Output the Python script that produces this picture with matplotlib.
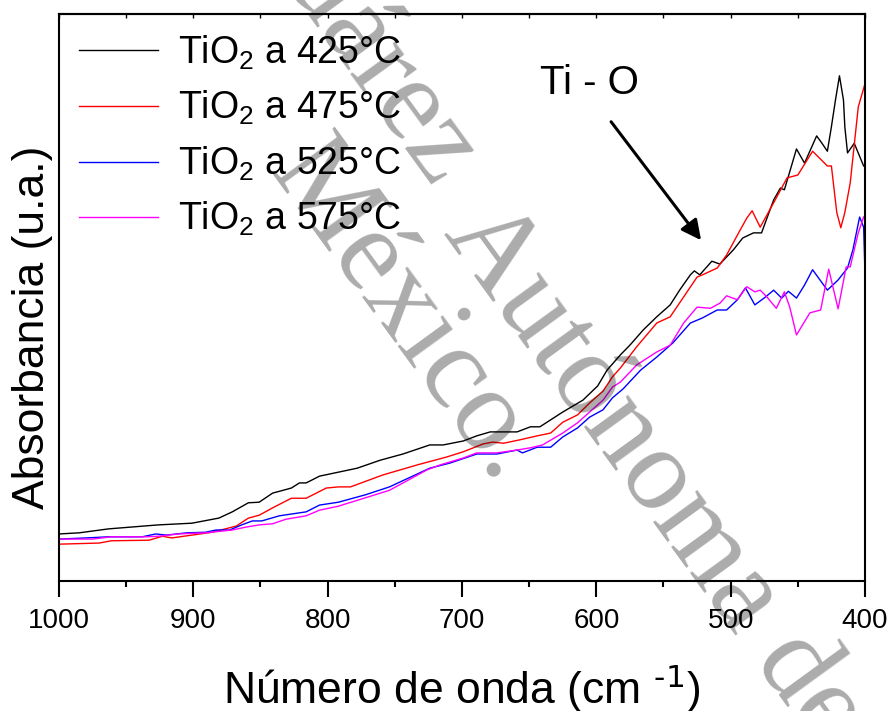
import matplotlib
matplotlib.use('Agg')
import matplotlib.pyplot as plt
from matplotlib.ticker import MultipleLocator

plt.rcParams['font.family'] = ['Liberation Sans', 'DejaVu Sans']
plt.rcParams['font.serif'] = ['Liberation Serif', 'DejaVu Serif']
plt.rcParams['mathtext.default'] = 'regular'

# wavenumber (cm-1) and absorbance (a.u.)
wn_425 = [1000, 985, 963, 926, 901, 881, 871, 859, 851, 841, 827, 821, 816, 806, 792, 778, 761, 744,
          724, 714, 699, 689, 679, 659, 649, 642, 625, 610, 599, 592, 582, 575, 565, 555, 545, 538,
          530, 527, 523, 514, 508, 498, 491, 483, 477, 468, 463, 460, 451, 445, 436, 432, 428, 425,
          422, 419, 416, 415, 413, 408, 401]
ab_425 = [8.3, 8.5, 9.2, 9.9, 10.2, 11.1, 12.2, 13.8, 13.9, 15.5, 16.4, 17.3, 17.3, 18.5, 19.2, 19.9,
          21.3, 22.4, 24.0, 24.0, 24.7, 25.6, 26.3, 26.3, 27.2, 27.2, 29.8, 31.9, 34.4, 37.2, 39.9,
          41.6, 44.3, 46.6, 48.7, 51.3, 54.0, 54.7, 54.0, 56.4, 55.9, 58.4, 60.5, 61.4, 61.4, 67.2,
          69.3, 69.0, 76.2, 73.7, 78.5, 77.2, 75.8, 80.1, 84.8, 89.1, 84.8, 80.1, 75.5, 77.2, 73.2]

wn_475 = [1000, 970, 961, 933, 923, 916, 901, 886, 868, 859, 851, 841, 827, 816, 801, 792, 783, 759,
          733, 711, 699, 684, 677, 669, 657, 644, 634, 625, 614, 605, 595, 588, 582, 570, 555, 545,
          535, 525, 521, 510, 503, 495, 488, 484, 478, 468, 458, 450, 439, 428, 425, 421, 418, 415,
          411, 405, 400]
ab_475 = [6.5, 6.7, 7.1, 7.2, 7.9, 7.6, 8.1, 8.6, 9.7, 11.1, 11.6, 12.9, 14.6, 14.6, 16.4, 16.6, 16.6,
          18.7, 20.5, 21.9, 22.8, 24.2, 24.5, 24.3, 24.9, 25.6, 26.1, 28.0, 29.3, 31.4, 33.5, 36.0,
          37.6, 41.3, 45.5, 46.6, 50.1, 53.6, 54.0, 55.2, 57.5, 61.0, 64.0, 65.3, 62.4, 66.7, 71.1,
          71.6, 75.8, 73.2, 73.2, 65.0, 62.3, 65.0, 70.2, 83.6, 87.7]

wn_525 = [1000, 980, 963, 938, 928, 920, 905, 891, 883, 873, 864, 856, 849, 836, 816, 806, 792, 772,
          754, 724, 709, 689, 674, 659, 655, 644, 634, 625, 614, 605, 595, 588, 580, 567, 555, 543,
          530, 521, 510, 503, 495, 489, 482, 474, 468, 462, 457, 451, 445, 439, 428, 420, 413, 409,
          404, 401, 400]
ab_525 = [7.4, 7.6, 7.8, 7.8, 8.3, 8.1, 8.5, 8.6, 9.0, 9.0, 9.9, 10.6, 10.6, 11.5, 12.2, 13.4, 13.9,
          15.2, 16.6, 19.9, 20.8, 22.4, 22.4, 23.1, 22.6, 23.6, 23.6, 25.4, 27.0, 28.9, 30.2, 32.3,
          33.9, 37.2, 39.5, 42.0, 45.5, 46.4, 47.8, 47.8, 49.6, 51.7, 48.7, 50.1, 51.3, 49.9, 51.1,
          49.9, 52.2, 54.9, 51.3, 53.1, 55.2, 58.4, 64.2, 62.4, 54.3]

wn_575 = [1000, 975, 961, 935, 926, 911, 891, 871, 861, 851, 841, 831, 816, 806, 792, 754, 726, 716,
          699, 689, 674, 659, 649, 640, 625, 614, 605, 595, 588, 582, 570, 555, 545, 535, 525, 515,
          508, 503, 495, 488, 482, 478, 473, 466, 460, 456, 451, 441, 433, 427, 420, 414, 411, 405,
          401]
ab_575 = [7.4, 7.4, 7.8, 7.8, 7.9, 8.3, 8.5, 9.0, 9.5, 9.9, 10.1, 10.9, 11.5, 12.5, 13.2, 16.0, 19.6,
          20.5, 21.7, 22.6, 22.6, 23.1, 23.5, 24.0, 26.1, 27.9, 29.8, 31.9, 34.2, 35.1, 38.1, 40.4,
          41.6, 45.5, 48.3, 48.1, 49.0, 50.3, 49.6, 51.9, 51.0, 51.3, 50.1, 48.1, 51.0, 48.3, 43.4,
          47.3, 47.8, 55.0, 48.0, 55.4, 55.4, 61.4, 64.2]

series = [
    (wn_425, ab_425, 'black', 'TiO$_2$ a 425°C'),
    (wn_475, ab_475, '#ff0000', 'TiO$_2$ a 475°C'),
    (wn_525, ab_525, '#0000ff', 'TiO$_2$ a 525°C'),
    (wn_575, ab_575, '#ff00ff', 'TiO$_2$ a 575°C'),
]

fig = plt.figure(figsize=(8.91, 7.11), dpi=100)
ax = fig.add_axes([0.0662, 0.1828, 0.9046, 0.7975])

for wn, ab, col, lab in series:
    ax.plot(wn, ab, color=col, lw=1.0, label=lab)

ax.set_xlim(1000, 400)
ax.set_ylim(0, 100)
ax.set_xticks([1000, 900, 800, 700, 600, 500, 400])
ax.xaxis.set_minor_locator(MultipleLocator(50))
ax.set_yticks([])
ax.tick_params(axis='x', which='major', direction='out', length=11.5, width=1.5, labelsize=20, pad=8)
ax.tick_params(axis='x', which='minor', direction='out', length=4.5, width=1.5)
for sp in ax.spines.values():
    sp.set_linewidth(1.5)

top = ax.secondary_xaxis('top')
top.set_xticks(range(400, 1001, 50))
top.tick_params(direction='in', length=3, width=1, labeltop=False)
top.spines['top'].set_linewidth(1.5)

ax.set_xlabel('Número de onda (cm $^{\\text{-1}}$)', fontsize=32)
ax.set_ylabel('Absorbancia (u.a.)', fontsize=32)
ax.xaxis.set_label_coords(0.5, -0.143)
ax.yaxis.set_label_coords(-0.007, 0.447)

ax.legend(loc='upper left', bbox_to_anchor=(0.0063, 0.992), frameon=False, fontsize=27,
          handlelength=2.1, handletextpad=0.55, labelspacing=0.46, borderaxespad=0)

ax.text(605, 87.8, 'Ti - O', fontsize=29, ha='center', va='center')
ax.annotate('', xy=(522, 60.1), xytext=(589, 81.0),
            arrowprops=dict(arrowstyle='-|>', lw=2.2, color='black', mutation_scale=30,
                            shrinkA=0, shrinkB=0))

# watermark
wm = dict(family='serif', fontsize=85, color='black', alpha=0.33,
          rotation=-54, rotation_mode='anchor', va='baseline', zorder=10)
fig.text(432 / 891, 1 - 190 / 711, 'Juárez', ha='right', **wm)
fig.text(0.4972, 0.6723, 'Autónoma de', ha='left', **wm)
fig.text(0.2997, 0.7581, 'México.', ha='left', **wm)

fig.savefig('out.png', dpi=100)
